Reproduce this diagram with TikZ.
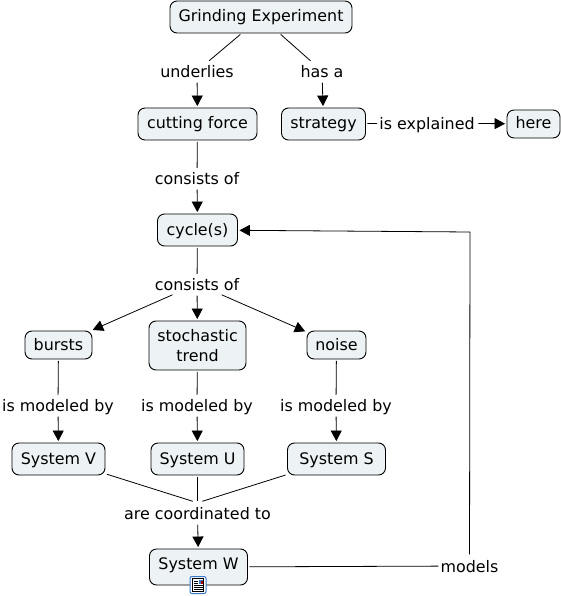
\documentclass[tikz,border=0pt]{standalone}
\usepackage{fontspec}
\setmainfont{DejaVu Sans}
\usetikzlibrary{arrows.meta,positioning}
\definecolor{boxfill}{HTML}{EDF3F5}
\definecolor{iconblue}{HTML}{3C78C8}
\tikzset{
  concept/.style={draw,fill=boxfill,rounded corners=7pt,line width=0.9pt,inner sep=0pt,align=center,font=\fontsize{15.9}{20}\selectfont},
  single/.style={concept,text height=12.5pt,text depth=2.5pt},
  link/.style={inner sep=0pt,inner xsep=2pt,text height=13pt,text depth=0pt,minimum height=20pt,font=\fontsize{15.9}{20}\selectfont},
  conn/.style={line width=0.8pt,shorten <=1.5pt},
  arr/.style={conn,-{Triangle[length=10.5pt,width=11pt]},shorten >=1.5pt}
}
\begin{document}
\begin{tikzpicture}[x=1pt,y=-1pt]
\useasboundingbox (0,0) rectangle (561,596);
\node[single,minimum width=182pt,minimum height=32pt] (ge) at (261,17) {Grinding Experiment};
\node[single,minimum width=119pt,minimum height=32pt] (cf) at (197.5,124) {cutting force};
\node[single,minimum width=84pt,minimum height=32pt] (st) at (323.5,124) {strategy};
\node[single,minimum width=53pt,minimum height=28pt] (he) at (533.5,124) {here};
\node[single,minimum width=80pt,minimum height=32pt] (cy) at (197.5,230) {cycle(s)};
\node[single,minimum width=67pt,minimum height=28pt] (bu) at (58.5,345) {bursts};
\node[concept,minimum width=97pt,minimum height=49pt] (tr) at (197.5,345.5) {stochastic\\trend};
\node[single,minimum width=59pt,minimum height=28pt] (no) at (336.5,345) {noise};
\node[single,minimum width=93pt,minimum height=32pt] (sv) at (58.5,459) {System V};
\node[single,minimum width=93pt,minimum height=32pt] (su) at (197.5,459) {System U};
\node[single,minimum width=98pt,minimum height=32pt] (ss) at (336.5,459) {System S};
\node[single,text depth=8.5pt,minimum width=98pt,minimum height=36pt] (sw) at (198.5,567) {System W};

\node[link] (l1) at (197,71) {underlies};
\node[link] (l2) at (322,71) {has a};
\node[link] (l3) at (427,123) {is explained};
\node[link] (l4) at (197,178) {consists of};
\node[link] (l5) at (197,284) {consists of};
\node[link] (l6) at (58,405) {is modeled by};
\node[link] (l7) at (197,405) {is modeled by};
\node[link] (l8) at (336,405) {is modeled by};
\node[link] (l9) at (197.5,513) {are coordinated to};
\node[link] (l10) at (469.5,566) {models};
\coordinate (corner) at (470,232);

\draw[conn] (ge) -- (l1);
\draw[conn] (ge) -- (l2);
\draw[arr] (l1) -- (cf);
\draw[arr] (l2) -- (st);
\draw[conn] (st) -- (l3);
\draw[arr] (l3) -- (he);
\draw[conn] (cf) -- (l4);
\draw[arr] (l4) -- (cy);
\draw[conn] (cy) -- (l5);
\draw[arr] (l5) -- (bu);
\draw[arr] (l5) -- (tr);
\draw[arr] (l5) -- (no);
\draw[conn] (bu) -- (l6);
\draw[conn] (tr) -- (l7);
\draw[conn] (no) -- (l8);
\draw[arr] (l6) -- (sv);
\draw[arr] (l7) -- (su);
\draw[arr] (l8) -- (ss);
\draw[conn,shorten >=5pt] (sv) -- (l9.north);
\draw[conn,shorten >=2pt] (su) -- (l9.north);
\draw[conn,shorten >=5pt] (ss) -- (l9.north);
\draw[arr] (l9) -- (sw);
\draw[conn] (sw) -- (l10);
% back to the cycle
\draw[arr] (l10) -- (corner) -- (cy);

% attachment icon
\node[draw=iconblue,fill=white,rounded corners=2pt,line width=1pt,minimum width=16pt,minimum height=17pt,inner sep=0pt] (icon) at (198,585) {};
\draw[line width=0.8pt,fill=white] (192.5,578.5) rectangle (203.5,591.5);
\fill[iconblue] (198.5,579.5) rectangle (203,584);
\fill[red!70!black] (200.5,581) rectangle (203,584);
\foreach \y in {581,583,585,587,589} \draw[line width=0.7pt] (194,\y) -- ({\y<585 ? 197.5 : 202.5},\y);
\end{tikzpicture}
\end{document}
